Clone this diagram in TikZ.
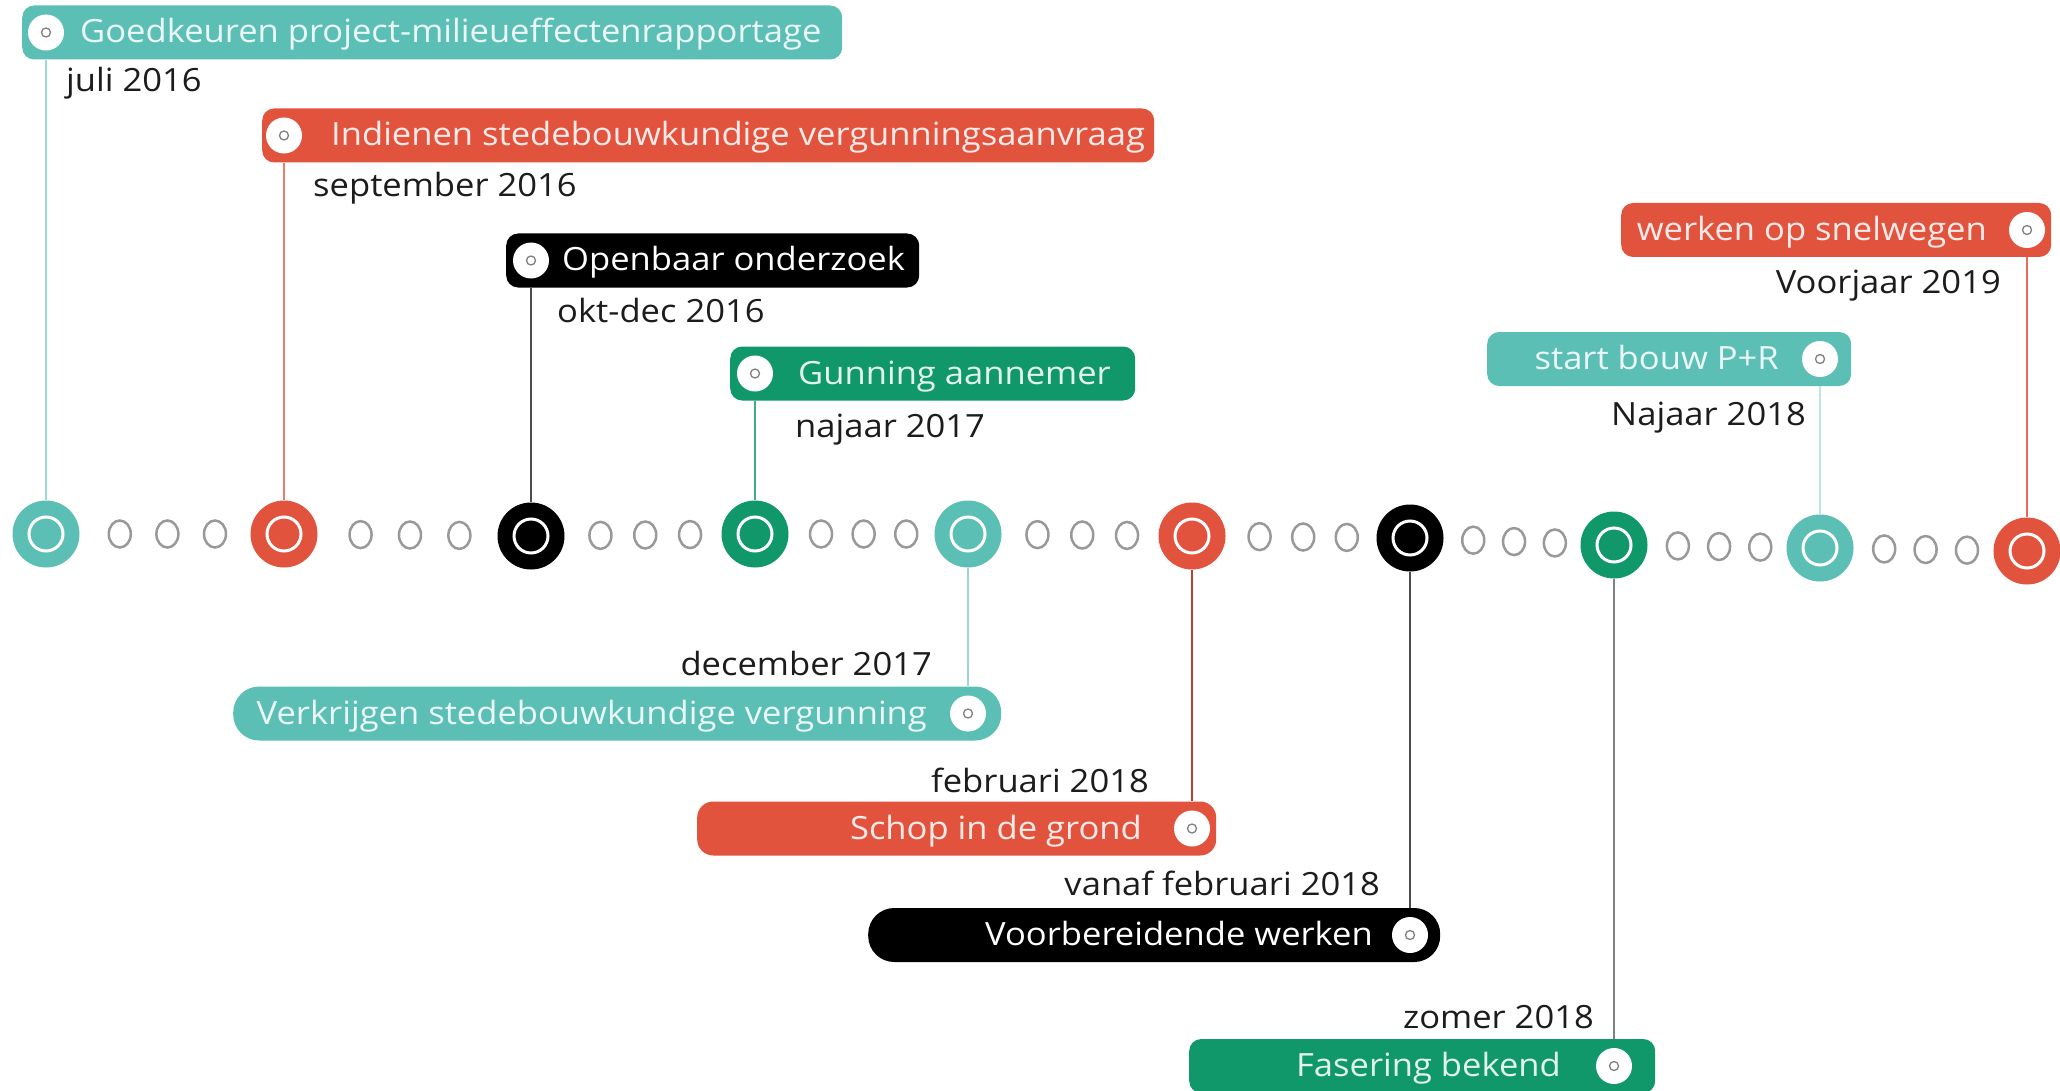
\documentclass[tikz,border=0pt]{standalone}
\usepackage{fontspec}
\setmainfont{Open Sans}[FakeStretch=1.08]
\usetikzlibrary{calc}
\definecolor{teal1}{HTML}{5CBFB5}
\definecolor{coral}{HTML}{E2533E}
\definecolor{green1}{HTML}{10986A}
\definecolor{ink}{HTML}{1C1C1C}
\tikzset{
  milestone/.style={circle, fill=#1, minimum size=67pt, inner sep=0pt,
    path picture={\draw[white, line width=3pt] (path picture bounding box.center) circle (17pt);}},
  smalldot/.style={draw=gray!80, line width=2.5pt},
  tag/.style={fill=#1, rounded corners=12pt, minimum height=54pt, inner sep=0pt, anchor=west},
  bullet/.style={circle, fill=white, minimum size=36pt, inner sep=0pt,
    path picture={\draw[gray, line width=1.3pt] (path picture bounding box.center) circle (4.5pt);}},
  tagtext/.style={text=#1!12!white, inner sep=0pt},
  date/.style={text=ink, inner sep=0pt},
  link/.style={draw=#1, line width=2pt}
}
\begin{document}
\begin{tikzpicture}[x=1pt, y=-1pt, font=\fontsize{32}{38}\selectfont]
\useasboundingbox (0,0) rectangle (2060,1091);

\node[milestone=teal1] (m1) at (46,534) {};
\node[milestone=coral] (m2) at (284,534) {};
\node[milestone=black] (m3) at (531,536) {};
\node[milestone=green1] (m4) at (755,534) {};
\node[milestone=teal1] (m5) at (968,534) {};
\node[milestone=coral] (m6) at (1192,536) {};
\node[milestone=black] (m7) at (1410,538) {};
\node[milestone=green1] (m8) at (1614,545) {};
\node[milestone=teal1] (m9) at (1820,548) {};
\node[milestone=coral] (m10) at (2027,551) {};

\foreach \a/\b in {m1/m2, m2/m3, m3/m4, m4/m5, m5/m6, m6/m7, m7/m8, m8/m9, m9/m10}
  \foreach \f in {0.31, 0.51, 0.71}
    \draw[smalldot] ($(\a)!\f!(\b)$) ellipse (11pt and 13.5pt);

% above the line
\node[tag=teal1, minimum width=820] (b1) at (22,32.5) {};
\node[bullet] (i1) at (b1.west -| m1) {};
\node[tagtext=teal1, anchor=base west] (t1) at (80,43) {Goedkeuren project-milieueffectenrapportage};
\node[date, anchor=base west] (d1) at (66,92) {juli 2016};

\node[tag=coral, minimum width=892] (b2) at (262,135.5) {};
\node[bullet] (i2) at (b2.west -| m2) {};
\node[tagtext=coral, anchor=base west] (t2) at (331,146) {Indienen stedebouwkundige vergunningsaanvraag};
\node[date, anchor=base west] (d2) at (313,197) {september 2016};

\node[tag=black, minimum width=413] (b3) at (506,260.5) {};
\node[bullet] (i3) at (b3.west -| m3) {};
\node[tagtext=white, anchor=base west] (t3) at (562,271) {Openbaar onderzoek};
\node[date, anchor=base west] (d3) at (557,322) {okt-dec 2016};

\node[tag=green1, minimum width=405] (b4) at (730,373.5) {};
\node[bullet] (i4) at (b4.west -| m4) {};
\node[tagtext=green1, anchor=base west] (t4) at (798,384) {Gunning aannemer};
\node[date, anchor=base west] (d4) at (795,437) {najaar 2017};

\node[tag=teal1, minimum width=364] (b9) at (1487,359) {};
\node[bullet] (i9) at (b9.west -| m9) {};
\node[tagtext=teal1, anchor=base east] (t9) at (1779,369.5) {start bouw P+R};
\node[date, anchor=base east] (d9) at (1806,425) {Najaar 2018};

\node[tag=coral, minimum width=430] (b10) at (1621,230) {};
\node[bullet] (i10) at (b10.west -| m10) {};
\node[tagtext=coral, anchor=base east] (t10) at (1987,240.5) {werken op snelwegen};
\node[date, anchor=base east] (d10) at (2001,293) {Voorjaar 2019};

% below the line
\node[tag=teal1, minimum width=768, rounded corners=26pt] (b5) at (233,713.5) {};
\node[bullet] (i5) at (b5.west -| m5) {};
\node[tagtext=teal1, anchor=base east] (t5) at (927,724) {Verkrijgen stedebouwkundige vergunning};
\node[date, anchor=base east] (d5) at (932,675) {december 2017};

\node[tag=coral, minimum width=519, rounded corners=16pt] (b6) at (697,828.5) {};
\node[bullet] (i6) at (b6.west -| m6) {};
\node[tagtext=coral, anchor=base east] (t6) at (1142,839) {Schop in de grond};
\node[date, anchor=base east] (d6) at (1149,792) {februari 2018};

\node[tag=black, minimum width=572, rounded corners=26pt] (b7) at (868,935) {};
\node[bullet] (i7) at (b7.west -| m7) {};
\node[tagtext=white, anchor=base east] (t7) at (1373,945.5) {Voorbereidende werken};
\node[date, anchor=base east] (d7) at (1380,895) {vanaf februari 2018};

\node[tag=green1, minimum width=466] (b8) at (1189,1066) {};
\node[bullet] (i8) at (b8.west -| m8) {};
\node[tagtext=green1, anchor=base east] (t8) at (1561,1076.5) {Fasering bekend};
\node[date, anchor=base east] (d8) at (1594,1028) {zomer 2018};

\draw[link=teal1!60] (m1.north) -- (m1.north |- b1.south);
\draw[link=coral!75] (m2.north) -- (m2.north |- b2.south);
\draw[link=black!70] (m3.north) -- (m3.north |- b3.south);
\draw[link=green1!80] (m4.north) -- (m4.north |- b4.south);
\draw[link=teal1!60] (m5.south) -- (m5.south |- b5.north);
\draw[link=coral!80!black] (m6.south) -- (m6.south |- b6.north);
\draw[link=black!70] (m7.south) -- (m7.south |- b7.north);
\draw[link=gray] (m8.south) -- (m8.south |- b8.north);
\draw[link=teal1!40] (m9.north) -- (m9.north |- b9.south);
\draw[link=coral!85] (m10.north) -- (m10.north |- b10.south);
\end{tikzpicture}
\end{document}
